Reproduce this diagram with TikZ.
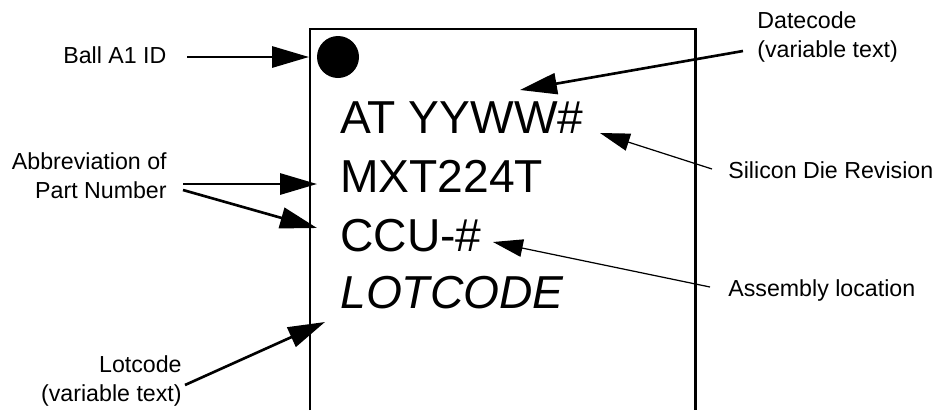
\documentclass[tikz,border=0pt]{standalone}
\usepackage{fontspec}
\setmainfont{Liberation Sans}
\usetikzlibrary{arrows.meta, positioning}

\begin{document}
\begin{tikzpicture}[
  x=0.02cm, y=-0.02cm,
  chiptext/.style={inner sep=0pt, font=\fontsize{26.3}{32}\selectfont},
  callout/.style={inner sep=0pt, font=\fontsize{13.2}{16.4}\selectfont},
  bigarrow/.style={-{Triangle[length=21pt, width=12pt]}, line width=1.5pt},
  thinarrow/.style={-{Triangle[length=17pt, width=10pt]}, line width=0.7pt}
]

\useasboundingbox (0,0) rectangle (942,410);

% Package outline and ball marker
\draw[line width=1.7pt] (310,410) -- (310,29) -- (695,29) -- (695,410);
\fill (338,57) circle (21);

% Marking lines
\node[chiptext, anchor=base west] (datecode) at (340,133) {AT YYWW\#};
\node[chiptext, anchor=base west] (partno) at (340,192) {MXT224T};
\node[chiptext, anchor=base west] (assy) at (340,251) {CCU-\#};
\node[chiptext, anchor=base west] (lot) at (340,308) {\itshape LOTCODE};

% Callout labels (base = last line)
\node[callout, anchor=base west] (balllbl) at (63,63) {Ball A1 ID};
\node[callout, anchor=base west, align=left] (datelbl) at (757,57) {Datecode\\(variable text)};
\node[callout, anchor=base west] (revlbl) at (728,178) {Silicon Die Revision};
\node[callout, anchor=base west] (assylbl) at (728,296) {Assembly location};
\node[callout, anchor=base east, align=right] (abbrlbl) at (167,198) {Abbreviation of\\Part Number};
\node[callout, anchor=base east, align=right] (lotlbl) at (182,401) {Lotcode\\(variable text)};

% Arrow ends
\coordinate (ballfrom) at (187,57);
\coordinate (ballto) at (309,57);
\coordinate (datefrom) at (743,51);
\coordinate (dateto) at (520,90);
\coordinate (revfrom) at (712,169);
\coordinate (revto) at (600,133);
\coordinate (assyfrom) at (710,287);
\coordinate (assyto) at (493,242);
\coordinate (abbrfromA) at (183,184);
\coordinate (abbrtoA) at (317,184);
\coordinate (abbrfromB) at (183,190);
\coordinate (abbrtoB) at (317,228);
\coordinate (lotfrom) at (185,385);
\coordinate (lotto) at (325,322);

% Arrows
\draw[bigarrow] (ballfrom) -- (ballto);
\draw[bigarrow] (datefrom) -- (dateto);
\draw[thinarrow] (revfrom) -- (revto);
\draw[thinarrow] (assyfrom) -- (assyto);
\draw[bigarrow] (abbrfromA) -- (abbrtoA);
\draw[bigarrow] (abbrfromB) -- (abbrtoB);
\draw[bigarrow] (lotfrom) -- (lotto);

\end{tikzpicture}
\end{document}
